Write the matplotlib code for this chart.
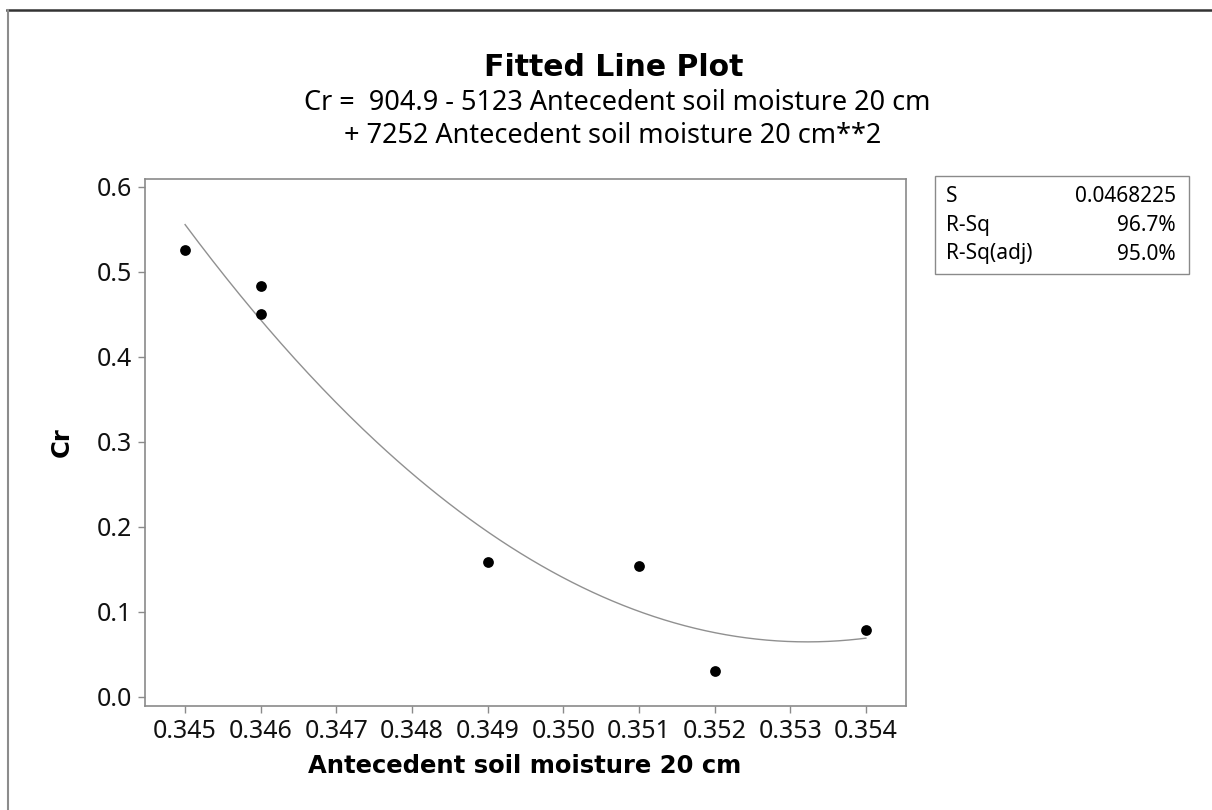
import numpy as np
import matplotlib
matplotlib.use("Agg")
import matplotlib.pyplot as plt
from matplotlib.lines import Line2D
from matplotlib.patches import Rectangle

plt.rcParams['font.family'] = ['Noto Sans', 'DejaVu Sans']
BOLD = ['DejaVu Sans']

# observations
moisture = [0.345, 0.346, 0.346, 0.349, 0.351, 0.352, 0.354]
cr = [0.526, 0.484, 0.450, 0.159, 0.154, 0.031, 0.079]

x_ticks = [0.345, 0.346, 0.347, 0.348, 0.349, 0.350, 0.351, 0.352, 0.353, 0.354]
y_ticks = [0.0, 0.1, 0.2, 0.3, 0.4, 0.5, 0.6]

stats_labels = ["S", "R-Sq", "R-Sq(adj)"]
stats_values = ["0.0468225", "96.7%", "95.0%"]

title = "Fitted Line Plot"
equation = ["Cr =  904.9 - 5123 Antecedent soil moisture 20 cm",
            "+ 7252 Antecedent soil moisture 20 cm**2"]

# quadratic least-squares fit
coef = np.polyfit(moisture, cr, 2)
xs = np.linspace(min(moisture), max(moisture), 200)
ys = np.polyval(coef, xs)

W, H = 1212, 810
fig = plt.figure(figsize=(W / 100, H / 100), dpi=100)
ax = fig.add_axes([145 / W, 1 - 706 / H, (906 - 145) / W, (706 - 179) / H])

grey = "#8a8a8a"
ax.plot(xs, ys, color="#909090", lw=1.0, zorder=2)
ax.scatter(moisture, cr, s=60, color="black", zorder=3, linewidths=0)

ax.set_xlim(0.34447, 0.35453)
ax.set_ylim(-0.0106, 0.6094)
ax.set_xticks(x_ticks)
ax.set_xticklabels([f"{v:.3f}" for v in x_ticks])
ax.set_yticks(y_ticks)
ax.set_yticklabels([f"{v:.1f}" for v in y_ticks])
ax.tick_params(direction="out", length=5, width=1, color=grey,
               labelsize=18, pad=4, labelcolor="#111111")
for sp in ax.spines.values():
    sp.set_color(grey)
    sp.set_linewidth(1.2)

fig.text(525 / W, 1 - 766 / H, "Antecedent soil moisture 20 cm",
         ha="center", va="center", fontsize=17.5, fontweight="bold", family=BOLD)
fig.text(62 / W, 1 - 442 / H, "Cr", ha="center", va="center",
         rotation=90, fontsize=17.5, fontweight="bold", family=BOLD)

fig.text(614 / W, 1 - 67 / H, title, ha="center", va="center",
         fontsize=21.5, fontweight="bold", family=BOLD)
fig.text(617 / W, 1 - 103 / H, equation[0], ha="center", va="center", fontsize=19.5)
fig.text(613 / W, 1 - 136 / H, equation[1], ha="center", va="center", fontsize=19.5)

# summary box
fig.add_artist(Rectangle((935 / W, 1 - 274 / H), (1189 - 935) / W, (274 - 176) / H,
                         transform=fig.transFigure, fill=False,
                         edgecolor=grey, lw=1.0))
for i, (lab, val) in enumerate(zip(stats_labels, stats_values)):
    yy = 1 - (197 + i * 28.5) / H
    fig.text(946 / W, yy, lab, ha="left", va="center", fontsize=15)
    fig.text(1176 / W, yy, val, ha="right", va="center", fontsize=15)

# window frame edges
fig.add_artist(Line2D([7 / W, 1], [1 - 9.5 / H, 1 - 9.5 / H],
                      transform=fig.transFigure, color="#333333", lw=1.8))
fig.add_artist(Line2D([7.5 / W, 7.5 / W], [0, 1 - 9.5 / H],
                      transform=fig.transFigure, color="#8c8c8c", lw=1.5))

fig.savefig("out.png", dpi=100)
